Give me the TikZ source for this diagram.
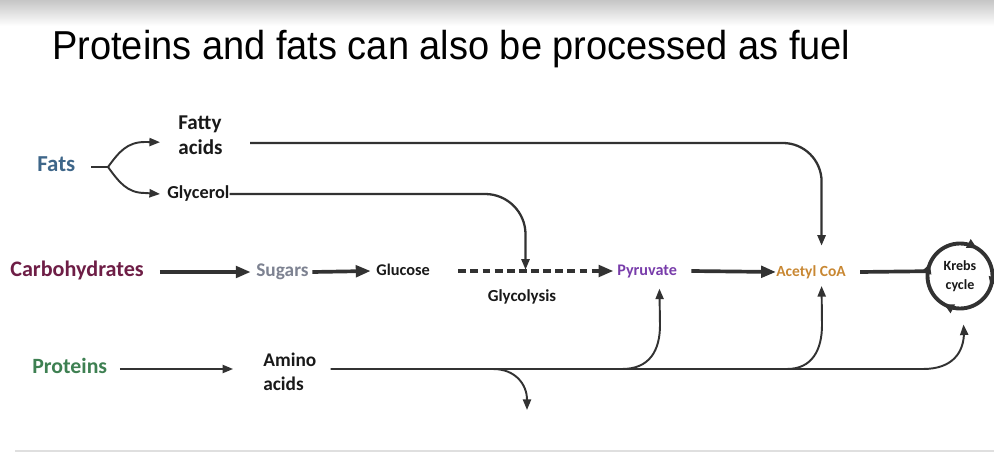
\documentclass[tikz,border=0pt]{standalone}
\usepackage{fontspec}
\setmainfont{Carlito}
\newfontfamily\titlefont{Liberation Sans}
\usetikzlibrary{arrows.meta, positioning, calc}
\definecolor{fatsblue}{RGB}{62,102,137}
\definecolor{carbred}{RGB}{110,30,70}
\definecolor{protgreen}{RGB}{62,128,82}
\definecolor{sugargray}{RGB}{125,130,145}
\definecolor{pyrpurple}{RGB}{120,60,170}
\definecolor{acetylorange}{RGB}{200,135,50}
\definecolor{linegray}{RGB}{50,50,50}
\definecolor{textblack}{RGB}{25,25,25}
\newcommand{\fsz}[2]{\fontsize{#1}{#2}\selectfont}

\begin{document}
\begin{tikzpicture}[x=0.02cm, y=-0.02cm,
  lbl/.style={inner sep=0pt, text=textblack},
  mainarrow/.style={draw=linegray, line width=2.1pt, -{Triangle[length=8.5pt,width=6.5pt]}},
  thinarrow/.style={draw=linegray, line width=1.1pt, -{Triangle[length=6pt,width=4.6pt]}},
  thinline/.style={draw=linegray, line width=1.1pt},
  cyclemark/.style={draw=linegray, line width=1pt, -{Triangle[length=5.5pt,width=5.5pt]}}]
  \useasboundingbox (0,0) rectangle (994,456);
  \shade[top color=gray!45, bottom color=white] (0,0) rectangle (994,26);
  \draw[gray!25, line width=1.6pt] (15,451) -- (994,451);

  % title
  \node[inner sep=0pt, anchor=base west, xscale=0.94, font=\titlefont\fsz{23}{23}] (title) at (52,60)
    {Proteins and fats can also be processed as fuel};

  % sources
  \node[lbl, anchor=mid west, text=fatsblue, font=\bfseries\fsz{13}{15}] (fats) at (37,167) {Fats};
  \node[lbl, anchor=mid west, text=carbred, font=\bfseries\fsz{12.6}{15}] (carbs) at (10,272) {Carbohydrates};
  \node[lbl, anchor=mid west, text=protgreen, font=\bfseries\fsz{12.4}{15}] (proteins) at (32,369) {Proteins};

  % products
  \node[lbl, anchor=north west, align=left, font=\bfseries\fsz{12}{14.7}] (fatty) at (178,115) {Fatty\\acids};
  \node[lbl, anchor=mid west, font=\bfseries\fsz{10.4}{12}] (glycerol) at (167,194) {Glycerol};
  \node[lbl, anchor=mid west, text=sugargray, font=\bfseries\fsz{11}{13}] (sugars) at (256,272) {Sugars};
  \node[lbl, anchor=mid west, font=\bfseries\fsz{9.3}{11}] (glucose) at (376,271) {Glucose};
  \node[lbl, anchor=mid, font=\bfseries\fsz{9.6}{11}] (glycolysis) at (522,297) {Glycolysis};
  \node[lbl, anchor=mid west, text=pyrpurple, font=\bfseries\fsz{9.2}{11}] (pyruvate) at (617,271) {Pyruvate};
  \node[lbl, anchor=mid west, text=acetylorange, font=\bfseries\fsz{8.8}{10}] (acetyl) at (776,272) {Acetyl CoA};
  \node[lbl, anchor=north west, align=left, font=\bfseries\fsz{11}{13.6}] (amino) at (263,353) {Amino\\acids};
  \node[lbl, circle, draw=linegray, line width=2.2pt, minimum size=1.3cm, align=center,
    font=\bfseries\fsz{8}{10.8}] (krebs) at (960,276) {Krebs\\cycle};
  \foreach \a in {59,158,241,341}
    \draw[cyclemark] ([shift={(\a+4:0.65cm)}]krebs.center) -- ([shift={(\a:0.65cm)}]krebs.center);

  % fats
  \coordinate (split) at (108,167);
  \draw[thinline] ([xshift=9pt]fats.mid east) -- (split);
  \draw[thinarrow] (split) .. controls (119,152) and (127,142) .. (145,142) -- ($(fatty.west)+(-18,7)$);
  \draw[thinarrow] (split) .. controls (119,182) and (127,193) .. (145,193) -- ([xshift=-4pt]glycerol.mid west);
  \coordinate (fastart) at (250,143);
  \draw[thinarrow, line width=1.3pt, rounded corners=22pt] (fastart) -| ([xshift=6pt,yshift=11pt]acetyl.north);
  \draw[thinarrow, line width=1.3pt, rounded corners=23pt] (glycerol.mid east) -| ([xshift=2pt,yshift=11pt]glycolysis.north);

  % carbohydrates
  \draw[mainarrow] ([xshift=9pt]carbs.mid east) -- ([xshift=-3pt]sugars.mid west);
  \draw[mainarrow] ([xshift=2pt]sugars.mid east) -- ([xshift=-3pt]glucose.mid west);
  \draw[mainarrow, dash pattern=on 4.5pt off 2.4pt] ([xshift=16pt]glucose.mid east) -- ([xshift=-2pt]pyruvate.mid west);
  \draw[mainarrow] ([xshift=8pt]pyruvate.mid east) -- (acetyl.mid west);
  \draw[draw=linegray, line width=2.1pt] ([xshift=8pt]acetyl.mid east) -- (krebs.172);

  % proteins
  \draw[thinarrow] ([xshift=7pt]proteins.mid east) -- ([xshift=-17pt]amino.west |- proteins.mid east);
  \coordinate (b1) at (493,369);
  \coordinate (b2) at (622,369);
  \coordinate (b3) at (787,369);
  \coordinate (aaout) at (527,410);
  \draw[thinarrow] ([xshift=8pt]amino.east |- b1) -- (923,369) .. controls (953,369) and (964,352) .. (964,332)
    -- ([xshift=2pt,yshift=-8pt]krebs.south);
  \draw[thinarrow] (b1) .. controls (515,369) and (527,384) .. (aaout);
  \draw[thinarrow] (b2) .. controls (650,369) and (660,350) .. (660,325) -- ([xshift=7pt,yshift=-6pt]pyruvate.south);
  \draw[thinarrow] (b3) .. controls (812,369) and (822,350) .. (822,325) -- ([xshift=6pt,yshift=-4pt]acetyl.south);
\end{tikzpicture}
\end{document}
